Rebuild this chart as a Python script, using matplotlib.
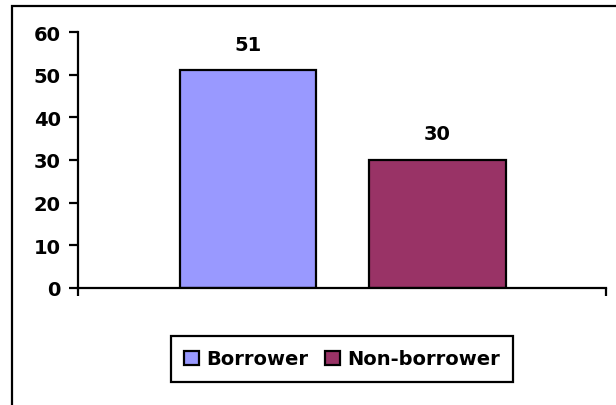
import matplotlib
matplotlib.use("Agg")
import matplotlib.pyplot as plt
from matplotlib.patches import Rectangle

# survey counts by group
groups = ["Borrower", "Non-borrower"]
counts = [51, 30]
colors = ["#9999FF", "#993366"]
yticks = [0, 10, 20, 30, 40, 50, 60]

W, H = 616, 406
fig = plt.figure(figsize=(W / 100, H / 100), dpi=100)
plt.rcParams['font.family'] = ['DejaVu Sans']
plt.rcParams['font.weight'] = 'bold'
fs = 14

# chart area frame (open at right and bottom)
fig.patches.append(Rectangle((11.5 / W, -0.1), 2, (H - 6.5) / H + 0.1,
                             transform=fig.transFigure, fill=False,
                             edgecolor='black', linewidth=1.6))

ax = fig.add_axes([78 / W, (H - 289) / H, (606 - 78) / W, (289 - 33) / H])
centers = [0.322, 0.681]
bars = ax.bar(centers, counts, width=0.258, color=colors,
              edgecolor='black', linewidth=1.6, label=groups)
ax.bar_label(bars, labels=[str(c) for c in counts], padding=12,
             fontsize=fs, fontweight='bold')

ax.set_xlim(0, 1)
ax.set_ylim(0, 60)
ax.set_yticks(yticks)
ax.set_xticks([0, 1])
ax.set_xticklabels([])
for s in ['top', 'right']:
    ax.spines[s].set_visible(False)
for s in ['left', 'bottom']:
    ax.spines[s].set_linewidth(1.6)
ax.tick_params(axis='y', direction='out', length=6.5, width=1.6,
               labelsize=fs, pad=6)
ax.tick_params(axis='x', direction='out', length=6, width=1.6)
for lab in ax.get_yticklabels():
    lab.set_fontweight('bold')

leg = fig.legend(bars, groups, loc='center', bbox_to_anchor=(342 / W, 1 - 360 / H),
                 ncol=2, frameon=True, fancybox=False, framealpha=1,
                 prop={'size': fs, 'weight': 'bold'},
                 handlelength=0.75, handleheight=0.75, handletextpad=0.35,
                 columnspacing=0.9, borderpad=0.7, borderaxespad=0)
leg.get_frame().set_edgecolor('black')
leg.get_frame().set_linewidth(1.6)

plt.savefig('out.png', dpi=100)
